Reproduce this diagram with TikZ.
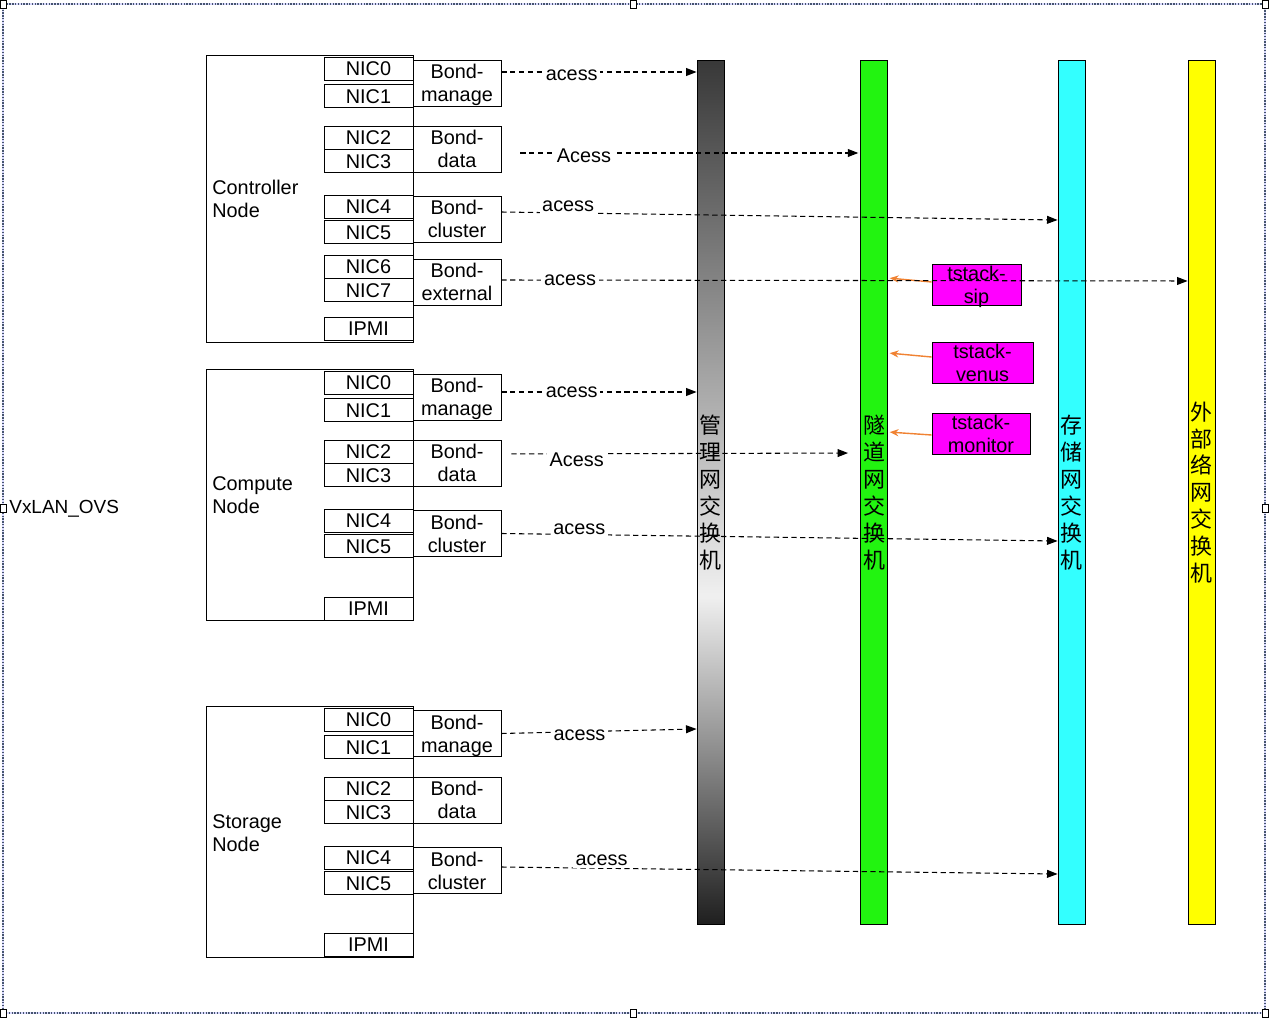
\documentclass[tikz,border=0pt]{standalone}
\usepackage{fontspec}
\setmainfont{Liberation Sans}
\newfontfamily\cjk{Noto Sans CJK SC}
\usetikzlibrary{arrows.meta, positioning}
\definecolor{tunnelgreen}{RGB}{34,244,16}
\definecolor{storcyan}{RGB}{51,255,255}
\definecolor{extyellow}{RGB}{255,255,0}
\definecolor{tstackpink}{RGB}{255,0,255}
\definecolor{arroworange}{RGB}{240,130,50}
\definecolor{framegray}{RGB}{70,85,110}
\pgfdeclareverticalshading{mgmtgrad}{100bp}{color(0bp)=(black!88); color(25bp)=(black!88); color(44bp)=(black!6); color(75bp)=(black!78); color(100bp)=(black!78)}

\begin{document}
\begin{tikzpicture}[
  x=0.02cm, y=-0.02cm,
  font=\fontsize{11.3}{13}\selectfont,
  >={Triangle[length=6pt,width=4.5pt]},
  server/.style={draw, rectangle, line width=0.5pt, minimum width=4.14cm, inner sep=0pt},
  srvlabel/.style={anchor=west, align=left, inner sep=0pt},
  nic/.style={draw, line width=0.5pt, fill=white, minimum width=1.78cm, minimum height=0.46cm, inner sep=0pt},
  bond/.style={draw, line width=0.5pt, fill=white, minimum width=1.76cm, minimum height=0.92cm, align=center, inner sep=0pt, text depth=0pt},
  swbar/.style={draw, line width=0.5pt, minimum width=0.54cm, minimum height=17.3cm, inner sep=0pt, align=center, font=\cjk\fontsize{12.5}{15.3}\selectfont},
  tstack/.style={draw, line width=0.5pt, fill=tstackpink, minimum height=0.82cm, align=center, inner sep=0pt, text depth=0pt},
  access/.style={->, line width=0.6pt, dash pattern=on 3pt off 2pt},
  lbl/.style={fill=white, inner sep=1.5pt},
  feed/.style={arroworange, line width=0.8pt, -{Stealth[length=5pt,width=4pt]}, shorten >=1pt},
]
  \useasboundingbox (0,0) rectangle (1269,1020);

  % selection frame
  \draw[blue!15, line width=1.6pt] (3,4) rectangle (1265,1013);
  \draw[framegray, dash pattern=on 0.8pt off 0.8pt, line width=0.6pt] (3,4) rectangle (1265,1013);
  \foreach \hx/\hy in {3/4, 633/4, 1265/4, 3/508, 1265/508, 3/1013, 633/1013, 1265/1013}
    \draw[fill=white, line width=0.5pt] (\hx-3,\hy-4) rectangle (\hx+3,\hy+4);

  \node[anchor=west, inner sep=0pt, font=\fontsize{10.8}{13}\selectfont] (vxlan) at (9,509) {VxLAN\_OVS};

  % controller node
  \node[server, minimum height=5.74cm] (ctrl) at (309.5,198.5) {};
  \node[srvlabel] (ctrl-lbl) at (212,199) {Controller\\Node};
  \node[nic] (c-nic0) at (368.5,68.5) {NIC0};
  \node[nic, below=0.08cm of c-nic0] (c-nic1) {NIC1};
  \node[nic] (c-nic2) at (368.5,137.5) {NIC2};
  \node[nic, below=0pt of c-nic2] (c-nic3) {NIC3};
  \node[nic] (c-nic4) at (368.5,206.5) {NIC4};
  \node[nic, below=0.04cm of c-nic4] (c-nic5) {NIC5};
  \node[nic] (c-nic6) at (368.5,266.5) {NIC6};
  \node[nic, below=0pt of c-nic6] (c-nic7) {NIC7};
  \node[nic] (c-ipmi) at (368.5,328.5) {IPMI};
  \node[bond] (c-bm) at (457,83) {Bond-\\manage};
  \node[bond] (c-bd) at (457,149) {Bond-\\data};
  \node[bond] (c-bc) at (457,219) {Bond-\\cluster};
  \node[bond] (c-be) at (457,282) {Bond-\\external};

  % compute node
  \node[server, minimum height=5.02cm] (comp) at (309.5,494.5) {};
  \node[srvlabel] (comp-lbl) at (212,495) {Compute\\Node};
  \node[nic] (p-nic0) at (368.5,382.5) {NIC0};
  \node[nic, below=0.08cm of p-nic0] (p-nic1) {NIC1};
  \node[nic] (p-nic2) at (368.5,451.5) {NIC2};
  \node[nic, below=0pt of p-nic2] (p-nic3) {NIC3};
  \node[nic] (p-nic4) at (368.5,520.5) {NIC4};
  \node[nic, below=0.04cm of p-nic4] (p-nic5) {NIC5};
  \node[nic] (p-ipmi) at (368.5,608.5) {IPMI};
  \node[bond] (p-bm) at (457,397) {Bond-\\manage};
  \node[bond] (p-bd) at (457,463) {Bond-\\data};
  \node[bond] (p-bc) at (457,533.5) {Bond-\\cluster};

  % storage node
  \node[server, minimum height=5.02cm] (stnode) at (309.5,831.5) {};
  \node[srvlabel] (stnode-lbl) at (212,833) {Storage\\Node};
  \node[nic] (s-nic0) at (368.5,719.5) {NIC0};
  \node[nic, below=0.08cm of s-nic0] (s-nic1) {NIC1};
  \node[nic] (s-nic2) at (368.5,788.5) {NIC2};
  \node[nic, below=0pt of s-nic2] (s-nic3) {NIC3};
  \node[nic] (s-nic4) at (368.5,857.5) {NIC4};
  \node[nic, below=0.04cm of s-nic4] (s-nic5) {NIC5};
  \node[nic] (s-ipmi) at (368.5,944.5) {IPMI};
  \node[bond] (s-bm) at (457,733.5) {Bond-\\manage};
  \node[bond] (s-bd) at (457,800) {Bond-\\data};
  \node[bond] (s-bc) at (457,870.5) {Bond-\\cluster};

  % switches
  \node[swbar, shade, shading=mgmtgrad] (mgmt) at (710.5,492.5) {管\\理\\网\\交\\换\\机};
  \node[swbar, fill=tunnelgreen] (tun) at (874,492.5) {隧\\道\\网\\交\\换\\机};
  \node[swbar, fill=storcyan] (stor) at (1071.5,492.5) {存\\储\\网\\交\\换\\机};
  \node[swbar, fill=extyellow] (ext) at (1201.5,492.5) {外\\部\\络\\网\\交\\换\\机};

  % tstack services
  \node[tstack, minimum width=1.78cm] (sip) at (976.5,284.5) {tstack-\\sip};
  \node[tstack, minimum width=2.02cm] (venus) at (982.5,362.5) {tstack-\\venus};
  \node[tstack, minimum width=1.96cm] (monitor) at (981,433.5) {tstack-\\monitor};

  \draw[feed] ([yshift=0.05cm]sip.west) -- ([yshift=0.13cm]sip.west -| tun.east);
  \draw[feed] ([yshift=0.11cm]venus.west) -- ([yshift=0.19cm]venus.west -| tun.east);
  \draw[feed] ([yshift=-0.03cm]monitor.west) -- ([yshift=0.03cm]monitor.west -| tun.east);

  % access links
  \draw[access] ([yshift=0.22cm]c-bm.east) -- ([yshift=0.22cm]c-bm.east -| mgmt.west) node[lbl, pos=0.36, yshift=-0.07cm] {acess};
  \draw[access, shorten <=0.38cm, shorten >=1pt] ([yshift=-0.08cm]c-bd.east) -- ([yshift=-0.08cm]c-bd.east -| tun.west) node[lbl, pos=0.23, yshift=-0.06cm] {Acess};
  \draw[access] ([yshift=0.14cm]c-bc.east) -- ([yshift=-0.02cm]c-bc.east -| stor.west) node[lbl, pos=0.12, above=-1pt] {acess};
  \draw[access] ([yshift=0.04cm]c-be.east) -- ([yshift=0.02cm]c-be.east -| ext.west) node[lbl, pos=0.1] {acess};
  \draw[access] ([yshift=0.1cm]p-bm.east) -- ([yshift=0.1cm]p-bm.east -| mgmt.west) node[lbl, pos=0.36] {acess};
  \draw[access, shorten <=0.2cm, shorten >=0.24cm] ([yshift=0.18cm]p-bd.east) -- ([yshift=0.2cm]p-bd.east -| tun.west) node[lbl, pos=0.21, yshift=-0.12cm] {Acess};
  \draw[access] (p-bc.east) -- ([yshift=-0.15cm]p-bc.east -| stor.west) node[lbl, pos=0.14, yshift=0.1cm] {acess};
  \draw[access] (s-bm.east) -- ([yshift=0.09cm]s-bm.east -| mgmt.west) node[lbl, pos=0.4, yshift=-0.08cm] {acess};
  \draw[access] ([yshift=0.07cm]s-bc.east) -- ([yshift=-0.07cm]s-bc.east -| stor.west) node[lbl, pos=0.18, yshift=0.16cm] {acess};
\end{tikzpicture}
\end{document}
